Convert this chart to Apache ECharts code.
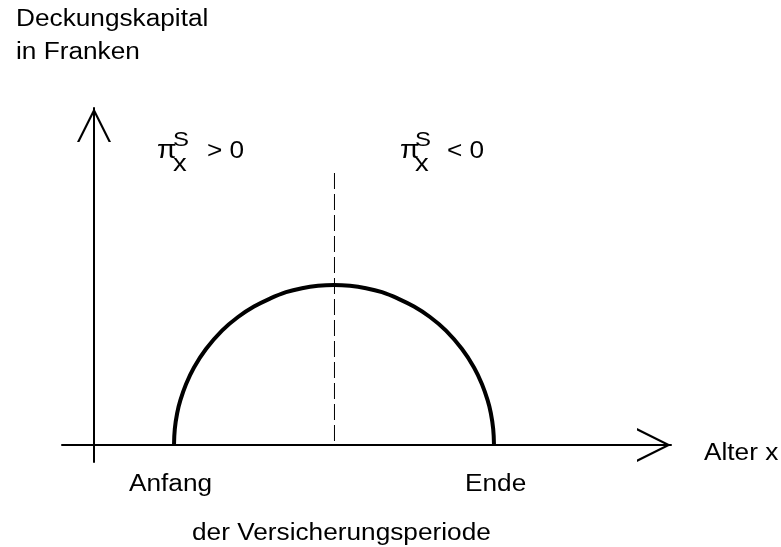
<!DOCTYPE html>
<html>
<head>
<meta charset="utf-8">
<script src="https://cdn.jsdelivr.net/npm/echarts@6/dist/echarts.min.js"></script>
<style>
  html, body { margin: 0; padding: 0; background: #fff; }
  #chart { width: 781px; height: 547px; }
</style>
</head>
<body>
<div id="chart"></div>
<script>
// Achsenbereich (Alter x, Deckungskapital) - nur Skizze, keine echten Einheiten
var alterMin = -4, alterMax = 72.125;
var kapitalMin = -2.125, kapitalMax = 42.125;

// Deckungskapital über das Alter
var alter   = [10, 10.1, 10.4, 10.8, 11.5, 12.5, 14, 16, 18, 20, 22, 24, 26, 28, 30,
               32, 34, 36, 38, 40, 42, 44, 46, 47.5, 48.5, 49.2, 49.6, 49.9, 50];
var kapital = [0, 2.0, 4.0, 5.6, 7.6, 9.7, 12.0, 14.3, 16.0, 17.3, 18.3, 19.1, 19.6, 19.9, 20,
               19.9, 19.6, 19.1, 18.3, 17.3, 16.0, 14.3, 12.0, 9.7, 7.6, 5.6, 4.0, 2.0, 0];

// Trennlinie (Vorzeichenwechsel der Sparprämie)
var trennAlter = [30.06, 30.06];
var trennHoehe = [34, 0];

var myChart = echarts.init(document.getElementById('chart'));

var FONT = '"Liberation Sans", Arial, sans-serif';
var STRETCH = 1.14;  // Schrift im Original horizontal gestreckt

// Text mit Grundlinie bei y
function txt(s, x, baseline, size) {
    return {
        type: 'text',
        x: x,
        y: baseline - 0.3465 * size,
        scaleX: STRETCH,
        silent: true,
        style: {
            text: s,
            x: 0, y: 0,
            fill: '#000',
            font: size + 'px ' + FONT,
            textAlign: 'left',
            verticalAlign: 'middle'
        }
    };
}

// offener Pfeil (Winkel), zeigt nach oben
var pfeil = 'path://M17,0 L34,34 L31.6,34 L17,4.8 L2.4,34 L0,34 Z';

var achse = {
    show: true,
    onZero: true,
    symbol: ['none', pfeil],
    symbolSize: [34, 34],
    symbolOffset: [0, -17],
    lineStyle: { color: '#000', width: 2 }
};

var option = {
    animation: false,
    backgroundColor: '#fff',
    grid: { left: 62, top: 108, right: 110, bottom: 85, containLabel: false },
    xAxis: {
        type: 'value',
        min: alterMin, max: alterMax,
        axisLine: achse,
        axisTick: { show: false },
        axisLabel: { show: false },
        splitLine: { show: false }
    },
    yAxis: {
        type: 'value',
        min: kapitalMin, max: kapitalMax,
        axisLine: achse,
        axisTick: { show: false },
        axisLabel: { show: false },
        splitLine: { show: false }
    },
    series: [
        {
            type: 'line',
            data: alter.map(function (a, i) { return [a, kapital[i]]; }),
            smooth: 0.4,
            symbol: 'none',
            lineStyle: { color: '#000', width: 4 },
            z: 3
        },
        {
            type: 'line',
            data: trennAlter.map(function (a, i) { return [a, trennHoehe[i]]; }),
            symbol: 'none',
            lineStyle: { color: '#000', width: 1, type: [16, 5] },
            z: 2
        }
    ],
    graphic: [
        txt('Deckungskapital', 16, 28, 23),
        txt('in Franken', 16, 61, 23),
        // π_x^S > 0
        txt('\u03c0', 157, 160, 25),
        txt('S', 173, 147, 21),
        txt('x', 173, 173, 24),
        txt('> 0', 207, 160, 23),
        // π_x^S < 0
        txt('\u03c0', 400, 160, 25),
        txt('S', 415, 147, 21),
        txt('x', 415, 173, 24),
        txt('< 0', 447, 160, 23),
        txt('Alter x', 704, 462, 23),
        txt('Anfang', 129, 493, 23),
        txt('Ende', 465, 493, 23),
        txt('der Versicherungsperiode', 192, 542, 23)
    ]
};

myChart.setOption(option);
</script>
</body>
</html>
